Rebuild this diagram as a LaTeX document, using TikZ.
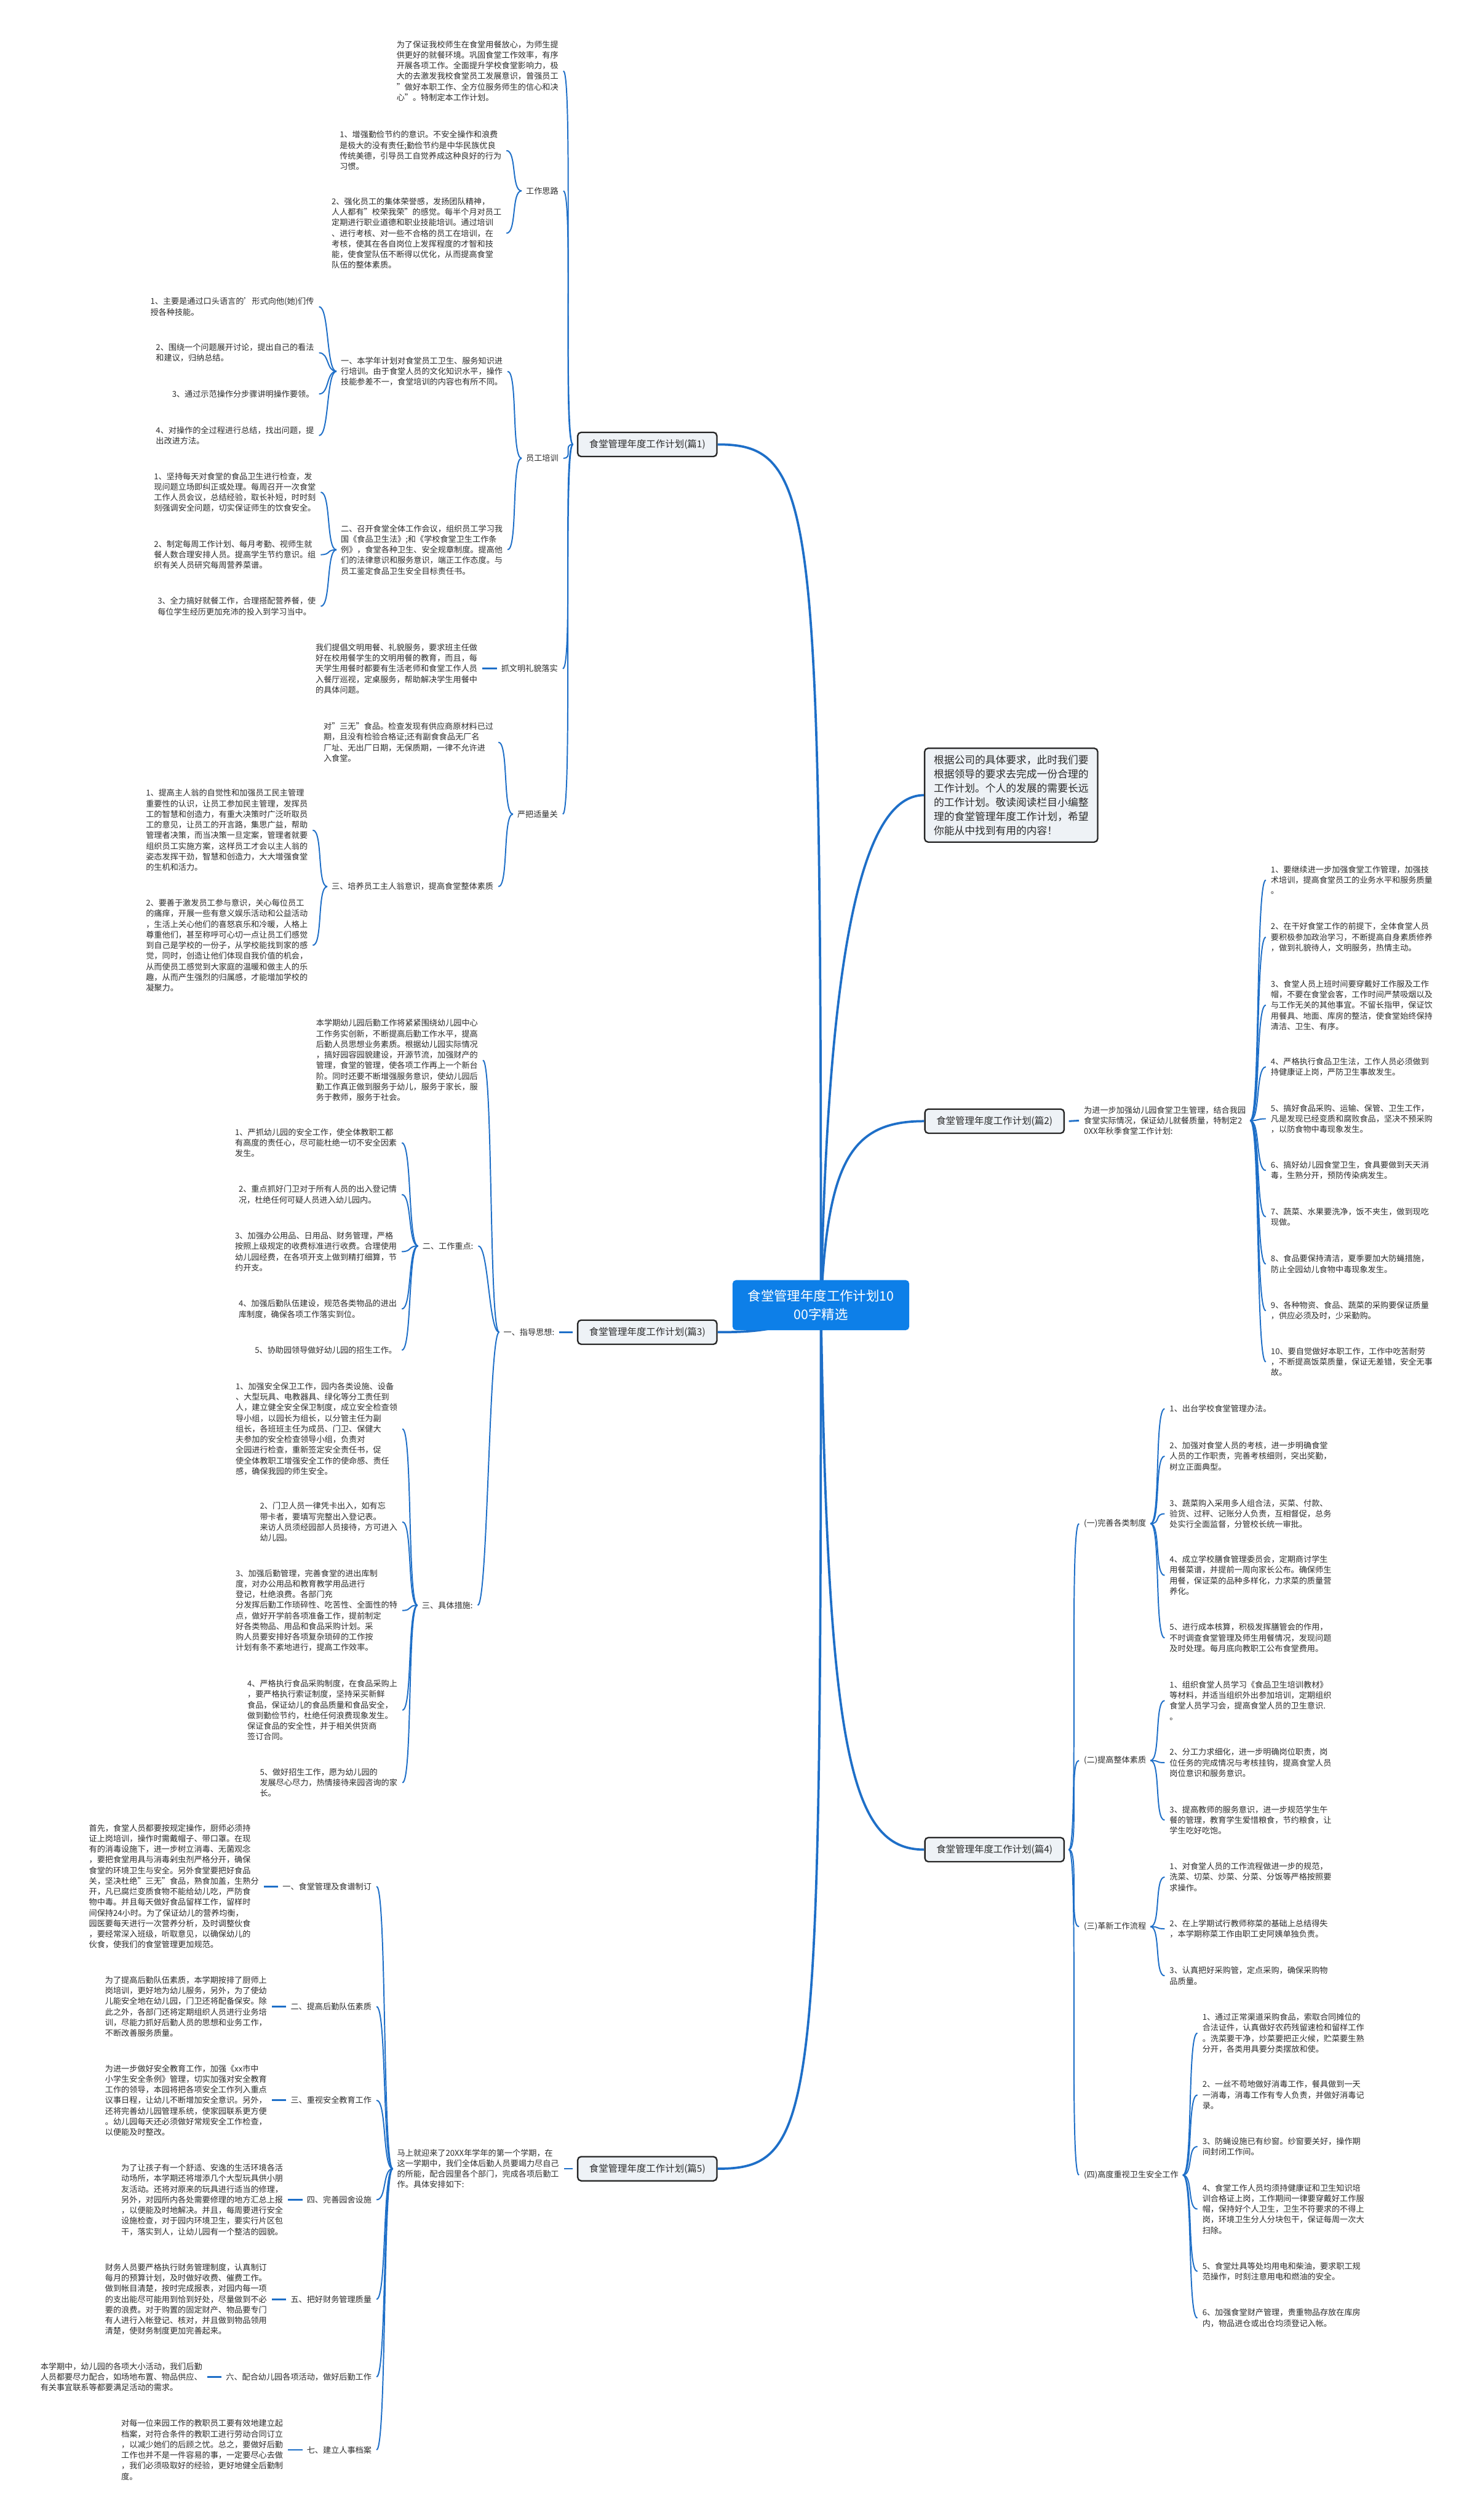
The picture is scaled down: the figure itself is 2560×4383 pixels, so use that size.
\documentclass[tikz,border=0pt]{standalone}
\usepackage{fontspec}
\setmainfont{Noto Sans CJK SC}
\usetikzlibrary{calc}
\definecolor{lk}{HTML}{1E6FC8}
\definecolor{rootblue}{HTML}{0D7FE8}
\definecolor{boxfill}{HTML}{EEF2F6}
\definecolor{txt}{HTML}{2B2B2B}
\newcommand\bodyfont{\fontsize{4pt}{5.25pt}\selectfont}
\newcommand\lcurve[2]{\draw[cn] ($(#1.west)+(-7,0)$) .. controls +(-18,0) and +(18,0) .. ($(#2.east)+(8,0)$);}
\newcommand\rcurve[2]{\draw[cn] ($(#1.east)+(7,0)$) .. controls +(18,0) and +(-18,0) .. ($(#2.west)+(-8,0)$);}
\newcommand\lline[2]{\draw[cnt] ($(#1.west)+(-7,0)$) -- ($(#2.east)+(8,0)$);}
\newcommand\rline[2]{\draw[cnt] ($(#1.east)+(7,0)$) -- ($(#2.west)+(-8,0)$);}
\begin{document}
\begin{tikzpicture}[x=0.01cm,y=-0.01cm,
  tx/.style={font=\bodyfont, align=left, inner sep=0pt, text=txt},
  pian/.style={draw=black!85, fill=boxfill, line width=0.025cm, rounded corners=0.06cm,
    minimum width=2.42cm, minimum height=0.42cm, inner sep=0pt, font=\fontsize{4.7pt}{5.6pt}\selectfont, text=txt},
  cn/.style={draw=lk, line width=0.021cm},
  cnt/.style={draw=lk, line width=0.03cm},
  br/.style={draw=lk, line width=0.04cm}]
\fill[white] (0,0) rectangle (2560,4383);
\useasboundingbox (0,0) rectangle (2560,4383);

% ---------- root and main branches ----------
\coordinate (rc) at (1428,2270);
\node[pian] (n1) at (1126,773) {食堂管理年度工作计划(篇1)};
\node[pian] (n2) at (1730,1950) {食堂管理年度工作计划(篇2)};
\node[pian] (n3) at (1126,2317) {食堂管理年度工作计划(篇3)};
\node[pian] (n4) at (1730,3217) {食堂管理年度工作计划(篇4)};
\node[pian] (n5) at (1126,3772) {食堂管理年度工作计划(篇5)};
\node[draw=black!85, fill=boxfill, line width=0.025cm, rounded corners=0.06cm, minimum width=3.01cm, minimum height=1.63cm,
  inner sep=0pt, align=left, font=\fontsize{5.1pt}{7pt}\selectfont, text=txt] (cb) at (1759,1383)
  {根据公司的具体要求，此时我们要\\根据领导的要求去完成一份合理的\\工作计划。个人的发展的需要长远\\的工作计划。敬读阅读栏目小编整\\理的食堂管理年度工作计划，希望\\你能从中找到有用的内容！};

\draw[br] (rc) .. controls (1428,880) and (1420,773) .. (n1.east);
\draw[br] (rc) .. controls (1440,1650) and (1500,1383) .. (cb.west);
\draw[br] (rc) .. controls (1440,2020) and (1480,1950) .. (n2.west);
\draw[br] (rc) .. controls (1380,2316) and (1300,2317) .. (n3.east);
\draw[br] (rc) .. controls (1440,3050) and (1480,3217) .. (n4.west);
\draw[br] (rc) .. controls (1428,3680) and (1420,3772) .. (n5.east);
\node[fill=rootblue, rounded corners=0.06cm, minimum width=3.07cm, minimum height=0.87cm, inner sep=0pt,
  align=center, text=white, font=\fontsize{6.5pt}{9.1pt}\selectfont] (root) at (1428,2270)
  {食堂管理年度工作计划10\\00字精选};

% ---------- 篇1 ----------
\node[tx, anchor=north east] (p1a) at (972,70) {为了保证我校师生在食堂用餐放心，为师生提\\供更好的就餐环境。巩固食堂工作效率，有序\\开展各项工作。全面提升学校食堂影响力，极\\大的去激发我校食堂员工发展意识，曾强员工\\"做好本职工作、全方位服务师生的信心和决\\心"。特制定本工作计划。};
\node[tx, anchor=east] (sl) at (972,332) {工作思路};
\node[tx, anchor=north east] (sl1) at (873,227) {1、增强勤俭节约的意识。不安全操作和浪费\\是极大的没有责任;勤俭节约是中华民族优良\\传统美德，引导员工自觉养成这种良好的行为\\习惯。};
\node[tx, anchor=north east] (sl2) at (873,343) {2、强化员工的集体荣誉感，发扬团队精神，\\人人都有"校荣我荣"的感觉。每半个月对员工\\定期进行职业道德和职业技能培训。通过培训\\、进行考核、对一些不合格的员工在培训，在\\考核，使其在各自岗位上发挥程度的才智和技\\能，使食堂队伍不断得以优化，从而提高食堂\\队伍的整体素质。};
\node[tx, anchor=east] (yg) at (972,797) {员工培训};
\node[tx, anchor=north east] (yg1) at (875,620) {一、本学年计划对食堂员工卫生、服务知识进\\行培训。由于食堂人员的文化知识水平，操作\\技能参差不一，食堂培训的内容也有所不同。};
\node[tx, anchor=north east] (yg1a) at (547,517) {1、主要是通过口头语言的'形式向他(她)们传\\授各种技能。};
\node[tx, anchor=north east] (yg1b) at (547,597) {2、围绕一个问题展开讨论，提出自己的看法\\和建议，归纳总结。};
\node[tx, anchor=north east] (yg1c) at (547,678) {3、通过示范操作分步骤讲明操作要领。};
\node[tx, anchor=north east] (yg1d) at (547,741) {4、对操作的全过程进行总结，找出问题，提\\出改进方法。};
\node[tx, anchor=north east] (yg2) at (875,912) {二、召开食堂全体工作会议，组织员工学习我\\国《食品卫生法》;和《学校食堂卫生工作条\\例》，食堂各种卫生、安全规章制度。提高他\\们的法律意识和服务意识，端正工作态度。与\\员工鉴定食品卫生安全目标责任书。};
\node[tx, anchor=north east] (yg2a) at (550,821) {1、坚持每天对食堂的食品卫生进行检查，发\\现问题立场即纠正或处理。每周召开一次食堂\\工作人员会议，总结经验，取长补短，时时刻\\刻强调安全问题，切实保证师生的饮食安全。};
\node[tx, anchor=north east] (yg2b) at (550,939) {2、制定每周工作计划、每月考勤、视师生就\\餐人数合理安排人员。提高学生节约意识。组\\织有关人员研究每周营养菜谱。};
\node[tx, anchor=north east] (yg2c) at (550,1038) {3、全力搞好就餐工作，合理搭配营养餐，使\\每位学生经历更加充沛的投入到学习当中。};
\node[tx, anchor=east] (zw) at (971,1163) {抓文明礼貌落实};
\node[tx, anchor=east] (zwp) at ($(zw.west)+(-40,0)$) {我们提倡文明用餐、礼貌服务，要求班主任做\\好在校用餐学生的文明用餐的教育，而且，每\\天学生用餐时都要有生活老师和食堂工作人员\\入餐厅巡视，定桌服务，帮助解决学生用餐中\\的具体问题。};
\node[tx, anchor=east] (yb) at (971,1416) {严把适量关};
\node[tx, anchor=north east] (yb1) at (859,1256) {对"三无"食品。检查发现有供应商原材料已过\\期，且没有检验合格证;还有副食食品无厂名\\厂址、无出厂日期，无保质期，一律不允许进\\入食堂。};
\node[tx, anchor=east] (yb2) at (859,1542) {三、培养员工主人翁意识，提高食堂整体素质};
\node[tx, anchor=north east] (yb2a) at (536,1372) {1、提高主人翁的自觉性和加强员工民主管理\\重要性的认识，让员工参加民主管理，发挥员\\工的智慧和创造力，有重大决策时广泛听取员\\工的意见，让员工的开言路，集思广益，帮助\\管理者决策，而当决策一旦定案，管理者就要\\组织员工实施方案，这样员工才会以主人翁的\\姿态发挥干劲，智慧和创造力，大大增强食堂\\的生机和活力。};
\node[tx, anchor=north east] (yb2b) at (536,1563) {2、要善于激发员工参与意识，关心每位员工\\的痛痒，开展一些有意义娱乐活动和公益活动\\，生活上关心他们的喜怒哀乐和冷暖，人格上\\尊重他们，甚至称呼可心切一点让员工们感觉\\到自己是学校的一份子，从学校能找到家的感\\觉，同时，创造让他们体现自我价值的机会，\\从而使员工感觉到大家庭的温暖和做主人的乐\\趣，从而产生强烈的归属感，才能增加学校的\\凝聚力。};

\lcurve{n1}{p1a} \lcurve{n1}{sl} \lcurve{n1}{yg} \lcurve{n1}{zw} \lcurve{n1}{yb}
\lcurve{sl}{sl1} \lcurve{sl}{sl2}
\lcurve{yg}{yg1} \lcurve{yg}{yg2}
\lcurve{yg1}{yg1a} \lcurve{yg1}{yg1b} \lcurve{yg1}{yg1c} \lcurve{yg1}{yg1d}
\lcurve{yg2}{yg2a} \lcurve{yg2}{yg2b} \lcurve{yg2}{yg2c}
\lline{zw}{zwp}
\lcurve{yb}{yb1} \lcurve{yb}{yb2}
\lcurve{yb2}{yb2a} \lcurve{yb2}{yb2b}

% ---------- 篇3 ----------
\node[tx, anchor=east] (zd) at (965,2317) {一、指导思想:};
\node[tx, anchor=north east] (zd1) at (832,1772) {本学期幼儿园后勤工作将紧紧围绕幼儿园中心\\工作务实创新，不断提高后勤工作水平，提高\\后勤人员思想业务素质。根据幼儿园实际情况\\，搞好园容园貌建设，开源节流，加强财产的\\管理，食堂的管理，使各项工作再上一个新台\\阶。同时还要不断增强服务意识，使幼儿园后\\勤工作真正做到服务于幼儿，服务于家长，服\\务于教师，服务于社会。};
\node[tx, anchor=east] (zd2) at (824,2167) {二、工作重点:};
\node[tx, anchor=north east] (zd2a) at (691,1962) {1、严抓幼儿园的安全工作，使全体教职工都\\有高度的责任心，尽可能杜绝一切不安全因素\\发生。};
\node[tx, anchor=north east] (zd2b) at (691,2061) {2、重点抓好门卫对于所有人员的出入登记情\\况，杜绝任何可疑人员进入幼儿园内。};
\node[tx, anchor=north east] (zd2c) at (691,2142) {3、加强办公用品、日用品、财务管理，严格\\按照上级规定的收费标准进行收费。合理使用\\幼儿园经费，在各项开支上做到精打细算，节\\约开支。};
\node[tx, anchor=north east] (zd2d) at (691,2260) {4、加强后勤队伍建设，规范各类物品的进出\\库制度，确保各项工作落实到位。};
\node[tx, anchor=north east] (zd2e) at (691,2341) {5、协助园领导做好幼儿园的招生工作。};
\node[tx, anchor=east] (zd3) at (823,2792) {三、具体措施:};
\node[tx, anchor=north east] (zd3a) at (692,2404) {1、加强安全保卫工作，园内各类设施、设备\\、大型玩具、电教器具、绿化等分工责任到\\人，建立健全安全保卫制度，成立安全检查领\\导小组，以园长为组长，以分管主任为副\\组长，各班班主任为成员、门卫、保健大\\夫参加的安全检查领导小组，负责对\\全园进行检查，重新签定安全责任书，促\\使全体教职工增强安全工作的使命感、责任\\感，确保我园的师生安全。};
\node[tx, anchor=north east] (zd3b) at (692,2612) {2、门卫人员一律凭卡出入，如有忘\\带卡者，要填写完整出入登记表。\\来访人员须经园部人员接待，方可进入\\幼儿园。};
\node[tx, anchor=north east] (zd3c) at (692,2729) {3、加强后勤管理，完善食堂的进出库制\\度，对办公用品和教育教学用品进行\\登记，杜绝浪费。各部门充\\分发挥后勤工作琐碎性、吃苦性、全面性的特\\点，做好开学前各项准备工作，提前制定\\好各类物品、用品和食品采购计划。采\\购人员要安排好各项复杂琐碎的工作按\\计划有条不紊地进行，提高工作效率。};
\node[tx, anchor=north east] (zd3d) at (692,2921) {4、严格执行食品采购制度，在食品采购上\\，要严格执行索证制度，坚持采买新鲜\\食品，保证幼儿的食品质量和食品安全，\\做到勤俭节约，杜绝任何浪费现象发生。\\保证食品的安全性，并于相关供货商\\签订合同。};
\node[tx, anchor=north east] (zd3e) at (692,3075) {5、做好招生工作，愿为幼儿园的\\发展尽心尽力，热情接待来园咨询的家\\长。};
\lline{n3}{zd}
\lcurve{zd}{zd1} \lcurve{zd}{zd2} \lcurve{zd}{zd3}
\lcurve{zd2}{zd2a} \lcurve{zd2}{zd2b} \lcurve{zd2}{zd2c} \lcurve{zd2}{zd2d} \lcurve{zd2}{zd2e}
\lcurve{zd3}{zd3a} \lcurve{zd3}{zd3b} \lcurve{zd3}{zd3c} \lcurve{zd3}{zd3d} \lcurve{zd3}{zd3e}

% ---------- 篇5 ----------
\node[tx, anchor=east] (ms) at (973,3772) {马上就迎来了20XX年学年的第一个学期，在\\这一学期中，我们全体后勤人员要竭力尽自己\\的所能，配合园里各个部门，完成各项后勤工\\作。具体安排如下:};
\node[tx, anchor=east] (l1) at (647,3281) {一、食堂管理及食谱制订};
\node[tx, anchor=east] (l2) at (647,3490) {二、提高后勤队伍素质};
\node[tx, anchor=east] (l3) at (647,3653) {三、重视安全教育工作};
\node[tx, anchor=east] (l4) at (647,3826) {四、完善园舍设施};
\node[tx, anchor=east] (l5) at (647,3999) {五、把好财务管理质量};
\node[tx, anchor=east] (l6) at (647,4134) {六、配合幼儿园各项活动，做好后勤工作};
\node[tx, anchor=east] (l7) at (647,4261) {七、建立人事档案};
\node[tx, anchor=east] (q1) at ($(l1.west)+(-40,0)$) {首先，食堂人员都要按规定操作，厨师必须持\\证上岗培训，操作时需戴帽子、带口罩。在现\\有的消毒设施下，进一步树立消毒、无菌观念\\，要把食堂用具与消毒剁虫剂严格分开，确保\\食堂的环境卫生与安全。另外食堂要把好食品\\关，坚决杜绝"三无"食品，熟食加盖，生熟分\\开，凡已腐烂变质食物不能给幼儿吃，严防食\\物中毒。并且每天做好食品留样工作，留样时\\间保持24小时。为了保证幼儿的营养均衡，\\园医要每天进行一次营养分析，及时调整伙食\\，要经常深入班级，听取意见，以确保幼儿的\\伙食，使我们的食堂管理更加规范。};
\node[tx, anchor=east] (q2) at ($(l2.west)+(-40,0)$) {为了提高后勤队伍素质，本学期按排了厨师上\\岗培训，更好地为幼儿服务，另外，为了使幼\\儿能安全地在幼儿园，门卫还将配备保安。除\\此之外，各部门还将定期组织人员进行业务培\\训，尽能力抓好后勤人员的思想和业务工作，\\不断改善服务质量。};
\node[tx, anchor=east] (q3) at ($(l3.west)+(-40,0)$) {为进一步做好安全教育工作，加强《xx市中\\小学生安全条例》管理，切实加强对安全教育\\工作的领导，本园将把各项安全工作列入重点\\议事日程，让幼儿不断增加安全意识。另外，\\还将完善幼儿园管理系统，使家园联系更方便\\。幼儿园每天还必须做好常规安全工作检查，\\以便能及时整改。};
\node[tx, anchor=east] (q4) at ($(l4.west)+(-40,0)$) {为了让孩子有一个舒适、安逸的生活环境各活\\动场所，本学期还将增添几个大型玩具供小朋\\友活动。还将对原来的玩具进行适当的修理，\\另外，对园所内各处需要修理的地方汇总上报\\，以便能及时地解决。并且，每周要进行安全\\设施检查，对于园内环境卫生，要实行片区包\\干，落实到人，让幼儿园有一个整洁的园貌。};
\node[tx, anchor=east] (q5) at ($(l5.west)+(-40,0)$) {财务人员要严格执行财务管理制度，认真制订\\每月的预算计划，及时做好收费、催费工作。\\做到帐目清楚，按时完成报表，对园内每一项\\的支出能尽可能用到恰到好处，尽量做到不必\\要的浪费。对于购置的固定财产、物品要专门\\有人进行入帐登记、核对，并且做到物品领用\\清楚，使财务制度更加完善起来。};
\node[tx, anchor=east] (q6) at ($(l6.west)+(-40,0)$) {本学期中，幼儿园的各项大小活动，我们后勤\\人员都要尽力配合，如场地布置、物品供应、\\有关事宜联系等都要满足活动的需求。};
\node[tx, anchor=east] (q7) at ($(l7.west)+(-40,0)$) {对每一位来园工作的教职员工要有效地建立起\\档案，对符合条件的教职工进行劳动合同订立\\，以减少她们的后顾之忧。总之，要做好后勤\\工作也并不是一件容易的事，一定要尽心去做\\，我们必须吸取好的经验，更好地健全后勤制\\度。};
\lline{n5}{ms}
\lcurve{ms}{l1} \lcurve{ms}{l2} \lcurve{ms}{l3} \lcurve{ms}{l4} \lcurve{ms}{l5} \lcurve{ms}{l6} \lcurve{ms}{l7}
\lline{l1}{q1} \lline{l2}{q2} \lline{l3}{q3} \lline{l4}{q4} \lline{l5}{q5} \lline{l6}{q6} \lline{l7}{q7}

% ---------- 篇2 ----------
\node[tx, anchor=west] (jq) at (1885,1949) {为进一步加强幼儿园食堂卫生管理，结合我园\\食堂实际情况，保证幼儿就餐质量，特制定2\\0XX年秋季食堂工作计划:};
\node[tx, anchor=north west] (j1) at (2210,1505) {1、要继续进一步加强食堂工作管理，加强技\\术培训，提高食堂员工的业务水平和服务质量\\。};
\node[tx, anchor=north west] (j2) at (2210,1604) {2、在干好食堂工作的前提下，全体食堂人员\\要积极参加政治学习，不断提高自身素质修养\\，做到礼貌待人，文明服务，热情主动。};
\node[tx, anchor=north west] (j3) at (2210,1704) {3、食堂人员上班时间要穿戴好工作服及工作\\帽，不要在食堂会客，工作时间严禁吸烟以及\\与工作无关的其他事宜。不留长指甲，保证饮\\用餐具、地面、库房的整洁，使食堂始终保持\\清洁、卫生、有序。};
\node[tx, anchor=north west] (j4) at (2210,1839) {4、严格执行食品卫生法，工作人员必须做到\\持健康证上岗，严防卫生事故发生。};
\node[tx, anchor=north west] (j5) at (2210,1920) {5、搞好食品采购、运输、保管、卫生工作，\\凡是发现已经变质和腐败食品，坚决不预采购\\，以防食物中毒现象发生。};
\node[tx, anchor=north west] (j6) at (2210,2019) {6、搞好幼儿园食堂卫生，食具要做到天天消\\毒，生熟分开，预防传染病发生。};
\node[tx, anchor=north west] (j7) at (2210,2100) {7、蔬菜、水果要洗净，饭不夹生，做到现吃\\现做。};
\node[tx, anchor=north west] (j8) at (2210,2182) {8、食品要保持清洁，夏季要加大防蝇措施，\\防止全园幼儿食物中毒现象发生。};
\node[tx, anchor=north west] (j9) at (2210,2263) {9、各种物资、食品、蔬菜的采购要保证质量\\，供应必须及时，少采勤购。};
\node[tx, anchor=north west] (j10) at (2210,2343) {10、要自觉做好本职工作，工作中吃苦耐劳\\，不断提高饭菜质量，保证无差错，安全无事\\故。};
\rline{n2}{jq}
\foreach \k in {1,...,10} {\rcurve{jq}{j\k}}

% ---------- 篇4 ----------
\node[tx, anchor=west] (g1) at (1885,2650) {(一)完善各类制度};
\node[tx, anchor=north west] (g1a) at (2034,2443) {1、出台学校食堂管理办法。};
\node[tx, anchor=north west] (g1b) at (2034,2507) {2、加强对食堂人员的考核，进一步明确食堂\\人员的工作职责，完善考核细则，突出奖勤，\\树立正面典型。};
\node[tx, anchor=north west] (g1c) at (2034,2607) {3、蔬菜购入采用多人组合法，买菜、付款、\\验货、过秤、记账分人负责，互相督促，总务\\处实行全面监督，分管校长统一审批。};
\node[tx, anchor=north west] (g1d) at (2034,2705) {4、成立学校膳食管理委员会，定期商讨学生\\用餐菜谱，并提前一周向家长公布。确保师生\\用餐，保证菜的品种多样化，力求菜的质量营\\养化。};
\node[tx, anchor=north west] (g1e) at (2034,2823) {5、进行成本核算，积极发挥膳管会的作用，\\不时调查食堂管理及师生用餐情况，发现问题\\及时处理。每月底向教职工公布食堂费用。};
\node[tx, anchor=west] (g2) at (1885,3062) {(二)提高整体素质};
\node[tx, anchor=north west] (g2a) at (2034,2923) {1、组织食堂人员学习《食品卫生培训教材》\\等材料，并适当组织外出参加培训，定期组织\\食堂人员学习会，提高食堂人员的卫生意识.\\。};
\node[tx, anchor=north west] (g2b) at (2034,3040) {2、分工力求细化，进一步明确岗位职责，岗\\位任务的完成情况与考核挂钩，提高食堂人员\\岗位意识和服务意识。};
\node[tx, anchor=north west] (g2c) at (2034,3140) {3、提高教师的服务意识，进一步规范学生午\\餐的管理，教育学生爱惜粮食，节约粮食，让\\学生吃好吃饱。};
\node[tx, anchor=west] (g3) at (1885,3351) {(三)革新工作流程};
\node[tx, anchor=north west] (g3a) at (2034,3239) {1、对食堂人员的工作流程做进一步的规范，\\洗菜、切菜、炒菜、分菜、分饭等严格按照要\\求操作。};
\node[tx, anchor=north west] (g3b) at (2034,3338) {2、在上学期试行教师称菜的基础上总结得失\\，本学期称菜工作由职工史阿姨单独负责。};
\node[tx, anchor=north west] (g3c) at (2034,3420) {3、认真把好采购管，定点采购，确保采购物\\品质量。};
\node[tx, anchor=west] (g4) at (1885,3783) {(四)高度重视卫生安全工作};
\node[tx, anchor=north west] (g4a) at (2091,3501) {1、通过正常渠道采购食品，索取合同摊位的\\合法证件，认真做好农药残留速检和留样工作\\。洗菜要干净，炒菜要把正火候，贮菜要生熟\\分开，各类用具要分类摆放和使。};
\node[tx, anchor=north west] (g4b) at (2091,3618) {2、一丝不苟地做好消毒工作，餐具做到一天\\一消毒，消毒工作有专人负责，并做好消毒记\\录。};
\node[tx, anchor=north west] (g4c) at (2091,3717) {3、防蝇设施已有纱窗。纱窗要关好，操作期\\间封闭工作间。};
\node[tx, anchor=north west] (g4d) at (2091,3798) {4、食堂工作人员均须持健康证和卫生知识培\\训合格证上岗，工作期间一律要穿戴好工作服\\帽，保持好个人卫生，卫生不符要求的不得上\\岗，环境卫生分人分块包干，保证每周一次大\\扫除。};
\node[tx, anchor=north west] (g4e) at (2091,3934) {5、食堂灶具等处均用电和柴油，要求职工规\\范操作，时刻注意用电和燃油的安全。};
\node[tx, anchor=north west] (g4f) at (2091,4015) {6、加强食堂财产管理，贵重物品存放在库房\\内，物品进仓或出仓均须登记入帐。};
\rcurve{n4}{g1} \rcurve{n4}{g2} \rcurve{n4}{g3} \rcurve{n4}{g4}
\foreach \k in {a,b,c,d,e} {\rcurve{g1}{g1\k}}
\foreach \k in {a,b,c} {\rcurve{g2}{g2\k}}
\foreach \k in {a,b,c} {\rcurve{g3}{g3\k}}
\foreach \k in {a,b,c,d,e,f} {\rcurve{g4}{g4\k}}
\end{tikzpicture}
\end{document}
